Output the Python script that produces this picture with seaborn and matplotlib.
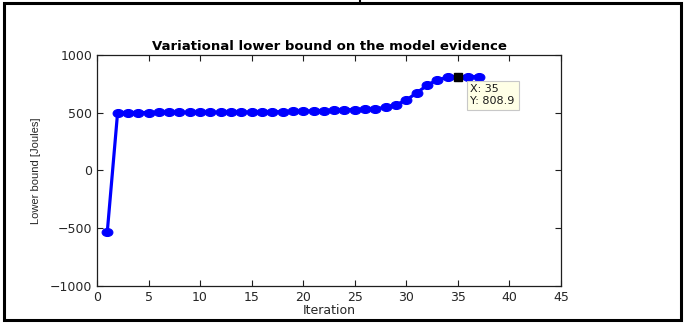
import numpy as np
import matplotlib
matplotlib.use("Agg")
import matplotlib.pyplot as plt
from matplotlib.path import Path
from matplotlib.transforms import Affine2D
from matplotlib.patches import Rectangle
from matplotlib.lines import Line2D
import seaborn as sns

# Lower bound per iteration of the variational inference run
iterations = list(range(1, 38))
lower_bound = [
    -530, 500, 500, 500, 500, 500.5, 501, 501, 501.5, 502,
    502, 502.5, 503, 503.5, 504, 505, 506, 507, 509, 511,
    514, 517, 520, 523, 526, 529, 533, 544, 566, 608,
    669, 735, 783, 803, 808.9, 810, 810.5,
]
tip_index = 34  # highlighted point (iteration 35)

x_ticks = [0, 5, 10, 15, 20, 25, 30, 35, 40, 45]
y_ticks = [-1000, -500, 0, 500, 1000]

sns.set_theme(style="white")
plt.rcParams["font.family"] = ["DejaVu Sans"]

fig = plt.figure(figsize=(6.84, 3.24), dpi=100)
ax = fig.add_axes([0.1418, 0.1173, 0.6784, 0.7139])

# slightly wide elliptical marker
ellipse = Path.unit_circle().transformed(Affine2D().scale(1.35, 1.0))

sns.lineplot(x=iterations, y=lower_bound, ax=ax, color="#0000FF",
             linewidth=2.3, marker=ellipse, markersize=7.8,
             markeredgecolor="#0000FF", markerfacecolor="#0000FF")

# data tip marker
ax.plot([iterations[tip_index]], [lower_bound[tip_index]], marker="s",
        color="black", markersize=5.5, linestyle="none", zorder=5)

ax.set_xlim(0, 45)
ax.set_ylim(-1000, 1000)
ax.set_xticks(x_ticks)
ax.set_yticks(y_ticks)
ax.tick_params(direction="in", length=4, width=0.8, colors="#1e1e1e",
               labelsize=9, labelcolor="#262626", top=True, right=True,
               bottom=True, left=True, pad=3.5)
for s in ax.spines.values():
    s.set_color("#1e1e1e")
    s.set_linewidth(0.9)

ax.set_title("Variational lower bound on the model evidence",
             fontsize=9.5, fontweight="bold", pad=3.5, color="black")
ax.set_xlabel("Iteration", fontsize=9, labelpad=0, color="#262626")
ax.set_ylabel("Lower bound [Joules]", fontsize=8, labelpad=6,
              color="#262626", family=["Liberation Sans Narrow", "Liberation Sans"])

# data tip box
tip_text = f"X: {iterations[tip_index]}\nY: {lower_bound[tip_index]}"
ax.annotate(tip_text, xy=(iterations[tip_index], lower_bound[tip_index]),
            xytext=(9, -5.5), textcoords="offset points", ha="left", va="top",
            fontsize=8, color="#1a1a1a", linespacing=1.2,
            bbox=dict(boxstyle="square,pad=0.35", fc="#FFFFE6",
                      ec="#C8C8C8", lw=0.8))

# frame around the figure
fig.patches.append(Rectangle((4 / 684, 1 - 320 / 324), 677 / 684, 317 / 324,
                             transform=fig.transFigure, fill=False,
                             ec="black", lw=2.2))
fig.lines.append(Line2D([360 / 684, 360 / 684], [1 - 3 / 324, 1.0],
                        transform=fig.transFigure, color="black", lw=1.5))

fig.savefig("out.png", dpi=100, facecolor="white")
